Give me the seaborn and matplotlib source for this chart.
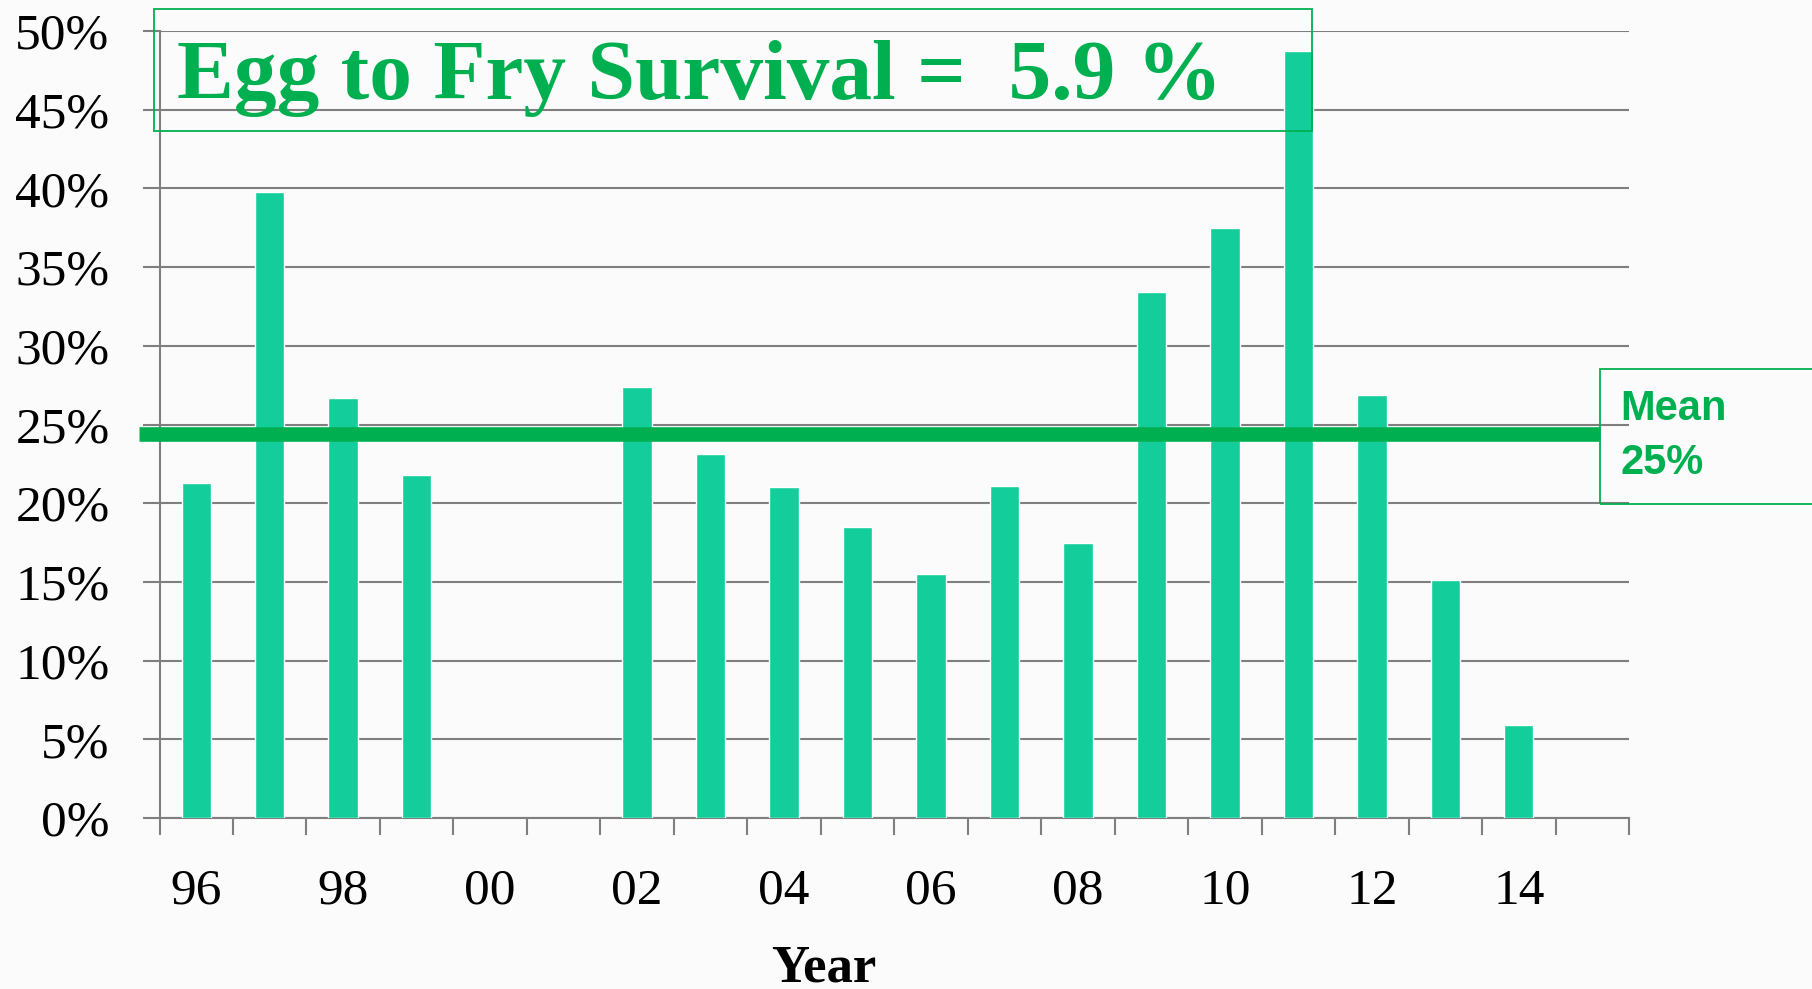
import matplotlib.pyplot as plt
import seaborn as sns
import pandas as pd
from matplotlib.patches import Rectangle
from matplotlib.lines import Line2D

# survival data (%)
years = ['96', '97', '98', '99', '00', '01', '02', '03', '04', '05',
         '06', '07', '08', '09', '10', '11', '12', '13', '14', '15']
bar_years = ['96', '97', '98', '99', '02', '03', '04', '05', '06',
             '07', '08', '09', '10', '11', '12', '13', '14']
survival = [21.3, 39.8, 26.7, 21.8, 27.4, 23.1, 21.0, 18.5, 15.5,
            21.1, 17.5, 33.4, 37.5, 48.7, 26.9, 15.1, 5.9]
mean_value = 24.4
y_ticks = [0, 5, 10, 15, 20, 25, 30, 35, 40, 45, 50]
x_labels = ['96', '98', '00', '02', '04', '06', '08', '10', '12', '14']

title_text = 'Egg to Fry Survival =  5.9 %'
mean_text = 'Mean\n25%'

GREEN = '#00B050'
BAR = '#13CE9A'
GRID = '#7f7f7f'
BG = '#fbfbfb'

sns.set_style('white')
plt.rcParams['font.family'] = ['Liberation Serif', 'DejaVu Serif']
plt.rcParams['text.color'] = 'black'

df = pd.DataFrame({'year': bar_years, 'survival': survival})

fig = plt.figure(figsize=(18.12, 9.89), dpi=100, facecolor=BG)
ax = fig.add_axes([159.5 / 1812, 1 - 818 / 989, (1629 - 159.5) / 1812, (818 - 31) / 989])
ax.set_facecolor(BG)

sns.barplot(data=df, x='year', y='survival', order=years, color=BAR,
            width=0.4, saturation=1, ax=ax, zorder=3)

ax.set_xlim(-0.5, len(years) - 0.5)
ax.set_ylim(0, 50)

# grid + y ticks
ax.set_yticks(y_ticks)
ax.set_yticklabels([f'{v}%' for v in y_ticks])
ax.yaxis.grid(True, color=GRID, lw=1.5, zorder=0)
ax.set_axisbelow(True)
ax.tick_params(axis='y', length=12, width=1.5, color=GRID, pad=24, labelsize=37,
               labelcolor='black', left=True)

# x ticks: marks on boundaries, labels every other year
ax.set_xticks([years.index(l) for l in x_labels])
ax.set_xticklabels(x_labels)
ax.set_xticks([i - 0.5 for i in range(len(years) + 1)], minor=True)
ax.tick_params(axis='x', which='major', length=0, pad=36, labelsize=37,
               labelcolor='black')
ax.tick_params(axis='x', which='minor', length=12, width=1.5, color=GRID, bottom=True)

for s in ['top', 'right']:
    ax.spines[s].set_visible(False)
for s in ['left', 'bottom']:
    ax.spines[s].set_color(GRID)
    ax.spines[s].set_linewidth(1.5)
ax.set_xlabel('')
ax.set_ylabel('')

# mean line, runs a bit past the left axis up to the label box
ax.add_line(Line2D([(139 - 159.5) / 1469.5, (1600 - 159.5) / 1469.5], [mean_value, mean_value],
                   transform=ax.get_yaxis_transform(), color=GREEN, lw=10.5,
                   clip_on=False, zorder=4, solid_capstyle='butt'))

# mean label box
fig.patches.append(Rectangle((1600 / 1812, 1 - 504 / 989), 0.2, (504 - 369) / 989,
                             transform=fig.transFigure, fill=False,
                             edgecolor=GREEN, lw=1.3, zorder=5))
fig.text(1620 / 1812, 1 - 436 / 989, mean_text, color=GREEN, fontsize=30,
         fontweight='bold', family=['Liberation Sans', 'DejaVu Sans'],
         ha='left', va='center', linespacing=1.45)

# title box
fig.patches.append(Rectangle((154 / 1812, 1 - 131 / 989), (1312 - 154) / 1812, (131 - 9) / 989,
                             transform=fig.transFigure, fill=False,
                             edgecolor=GREEN, lw=1.3, zorder=5))
fig.text(177 / 1812, 1 - 99 / 989, title_text, color=GREEN, fontsize=61.5,
         fontweight='bold', ha='left', va='baseline')

fig.text(824 / 1812, 1 - 968 / 989, 'Year', fontsize=38, fontweight='bold',
         ha='center', va='center')

fig.savefig('out.png', dpi=100, facecolor=BG)
